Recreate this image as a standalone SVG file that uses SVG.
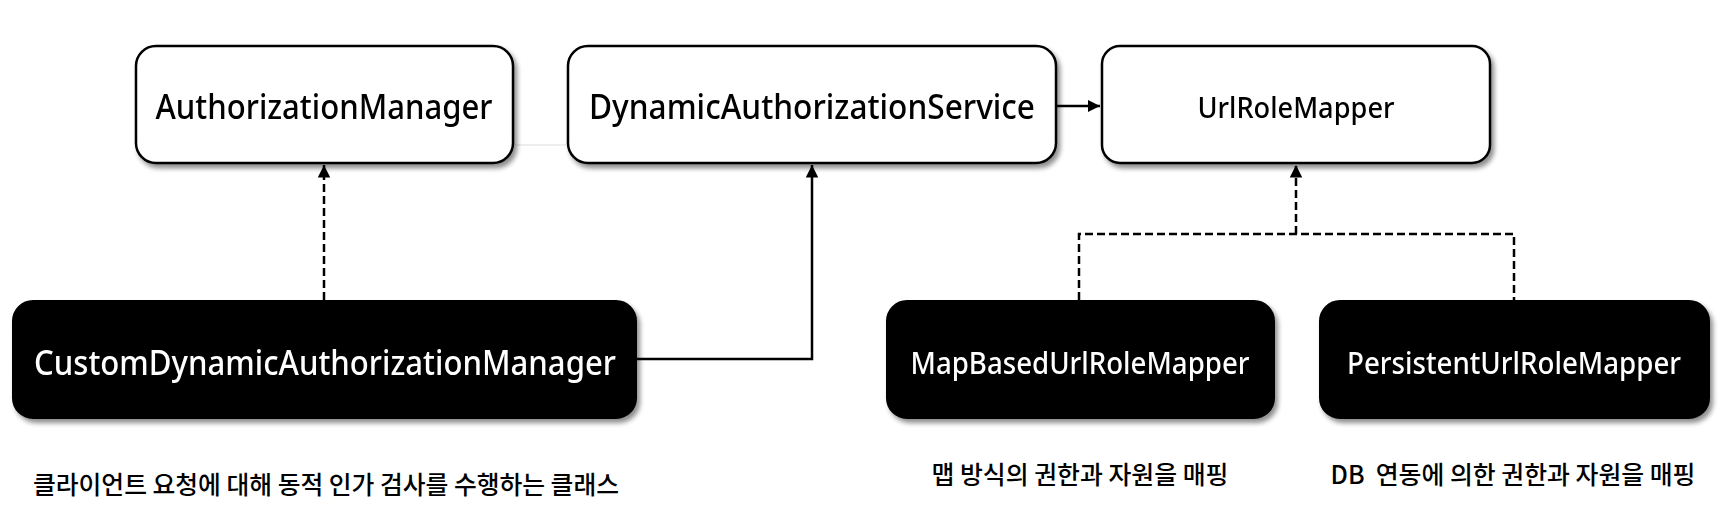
<svg xmlns="http://www.w3.org/2000/svg" width="1732" height="525" viewBox="0 0 1732 525">
<defs>
<filter id="sh" x="-10%" y="-20%" width="130%" height="150%">
<feGaussianBlur in="SourceAlpha" stdDeviation="2.5"/>
<feOffset dx="3" dy="4" result="b"/>
<feComponentTransfer><feFuncA type="linear" slope="0.45"/></feComponentTransfer>
<feMerge><feMergeNode/><feMergeNode in="SourceGraphic"/></feMerge>
</filter>
<marker id="ah" viewBox="0 0 10 10" refX="10" refY="5" markerWidth="5" markerHeight="5" orient="auto" markerUnits="strokeWidth">
<path d="M0,0 L10,5 L0,10 z" fill="#000"/>
</marker>
</defs>
<style>
.w{fill:#fff;stroke:#000;stroke-width:2.5}
.b{fill:#000;stroke:#000;stroke-width:2}
.t{font-family:"Noto Sans","Liberation Sans",sans-serif;font-weight:500;text-anchor:middle;dominant-baseline:central}
.tw{fill:#fff}
.tb{fill:#000}
.k{font-family:"Noto Sans CJK KR","Noto Sans",sans-serif;font-weight:500;font-size:25px;fill:#000;text-anchor:middle;dominant-baseline:central}
.c{fill:none;stroke:#000;stroke-width:2.5}
.d{fill:none;stroke:#000;stroke-width:2.5;stroke-dasharray:8 4}
</style>
<rect width="1732" height="525" fill="#fff"/>
<g id="connectors">
<line x1="513" y1="145" x2="567" y2="145" stroke="#ddd" stroke-width="1"/>
<line class="d" x1="324" y1="300" x2="324" y2="165" marker-end="url(#ah)"/>
<polyline class="c" points="637,359 812,359 812,165" marker-end="url(#ah)"/>
<line class="c" x1="1056" y1="106" x2="1100" y2="106" marker-end="url(#ah)"/>
<line class="d" x1="1296" y1="234" x2="1296" y2="165" marker-end="url(#ah)"/>
<polyline class="d" points="1079,300 1079,234 1514,234 1514,300"/>
</g>
<g id="AuthorizationManager" filter="url(#sh)">
<rect class="w" x="136" y="46" width="377" height="117" rx="20"/>
<text class="t tb" x="324" y="106" font-size="34" textLength="337" lengthAdjust="spacingAndGlyphs">AuthorizationManager</text>
</g>
<g id="DynamicAuthorizationService" filter="url(#sh)">
<rect class="w" x="568" y="46" width="488" height="117" rx="20"/>
<text class="t tb" x="812" y="106" font-size="34" textLength="446" lengthAdjust="spacingAndGlyphs">DynamicAuthorizationService</text>
</g>
<g id="UrlRoleMapper" filter="url(#sh)">
<rect class="w" x="1102" y="46" width="388" height="117" rx="18"/>
<text class="t tb" x="1296" y="106" font-size="29" textLength="197" lengthAdjust="spacingAndGlyphs">UrlRoleMapper</text>
</g>
<g id="CustomDynamicAuthorizationManager" filter="url(#sh)">
<rect class="b" x="13" y="301" width="623" height="117" rx="20"/>
<text class="t tw" x="325" y="362" font-size="34" textLength="582" lengthAdjust="spacingAndGlyphs">CustomDynamicAuthorizationManager</text>
</g>
<g id="MapBasedUrlRoleMapper" filter="url(#sh)">
<rect class="b" x="887" y="301" width="387" height="117" rx="20"/>
<text class="t tw" x="1080" y="362" font-size="31" textLength="339" lengthAdjust="spacingAndGlyphs">MapBasedUrlRoleMapper</text>
</g>
<g id="PersistentUrlRoleMapper" filter="url(#sh)">
<rect class="b" x="1320" y="301" width="389" height="117" rx="20"/>
<text class="t tw" x="1514" y="362" font-size="31" textLength="334" lengthAdjust="spacingAndGlyphs">PersistentUrlRoleMapper</text>
</g>
<g id="labels">
<text class="k" x="326" y="483" textLength="586" lengthAdjust="spacingAndGlyphs">클라이언트 요청에 대해 동적 인가 검사를 수행하는 클래스</text>
<text class="k" x="1080" y="473" textLength="297" lengthAdjust="spacingAndGlyphs">맵 방식의 권한과 자원을 매핑</text>
<text class="k" x="1513" y="473" textLength="365" lengthAdjust="spacingAndGlyphs">DB&#160; 연동에 의한 권한과 자원을 매핑</text>
</g>
</svg>
